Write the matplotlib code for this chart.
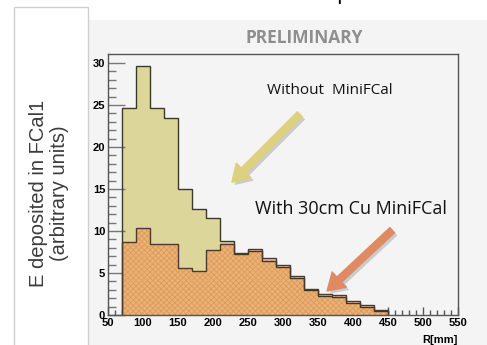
import numpy as np
import matplotlib
matplotlib.use("Agg")
import matplotlib.pyplot as plt
from matplotlib.patches import Rectangle
import matplotlib.patheffects as pe

# bin edges in R[mm]
edges = np.arange(70, 451, 20)

# energy per bin (arbitrary units)
without_mfc = [24.7, 29.6, 24.6, 23.5, 15.0, 12.6, 11.5, 8.85, 7.3, 7.65,
               6.45, 5.75, 4.45, 2.95, 2.3, 2.1, 1.45, 1.0, 0.5]
with_mfc = [8.7, 10.4, 8.5, 8.5, 5.55, 5.2, 7.7, 8.4, 7.35, 7.9,
            6.75, 6.0, 4.7, 3.15, 2.5, 2.35, 1.65, 1.2, 0.65]

xticks = [50, 100, 150, 200, 250, 300, 350, 400, 450, 500, 550]
yticks = [0, 5, 10, 15, 20, 25, 30]

plt.rcParams["hatch.linewidth"] = 0.6

W, H = 487, 345
fig = plt.figure(figsize=(W / 100, H / 100), dpi=100)
fig.patch.set_facecolor("white")

# grey slide panel and white label box
fig.patches.append(Rectangle((88 / W, 0), 1, 1 - 20 / H, transform=fig.transFigure,
                             facecolor="#f4f4f4", edgecolor="none", zorder=-2))
fig.patches.append(Rectangle((14 / W, -0.1), 74 / W, 1.1 - 7 / H, transform=fig.transFigure,
                             facecolor="white", edgecolor="#cfcfcf", lw=1, zorder=-1))

ax = fig.add_axes([108 / W, 1 - 315 / H, 350 / W, 261 / H])
ax.set_zorder(1)
ax.set_facecolor("#f4f4f4")

w = np.array(without_mfc)
c = np.array(with_mfc)
lo = np.minimum(w, c)

ax.stairs(w, edges, fill=True, facecolor="#ddd69b", edgecolor="none", zorder=1)
ax.stairs(c, edges, fill=True, facecolor="#f3cdb9", edgecolor="#e4a488",
          hatch="xxxxxx", lw=0, zorder=2)
ax.stairs(lo, edges, fill=True, facecolor="#eab273", edgecolor="#dc9a5e",
          hatch="xxxxxx", lw=0, zorder=3)
ax.stairs(w, edges, color="#3a3a2a", lw=1.0, zorder=4)
ax.stairs(c, edges, color="#4a3a30", lw=1.0, zorder=5)

ax.set_xlim(50, 550)
ax.set_ylim(0, 31.07)
ax.set_xticks(xticks)
ax.set_yticks(yticks)
ax.set_xticks(np.arange(50, 551, 10), minor=True)
ax.set_yticks(np.arange(0, 31, 1), minor=True)
ax.tick_params(axis="y", which="major", direction="in", length=12, width=1, color="#777777", pad=2)
ax.tick_params(axis="y", which="minor", direction="in", length=6, width=1, color="#777777")
ax.tick_params(axis="x", which="major", direction="in", length=6, width=1, color="#555555", pad=2)
ax.tick_params(axis="x", which="minor", direction="in", length=3.5, width=1, color="#555555")
for lab in ax.get_xticklabels() + ax.get_yticklabels():
    lab.set_fontfamily("Liberation Sans")
    lab.set_fontweight("bold")
    lab.set_fontsize(8)
for s in ax.spines.values():
    s.set_color("#555555")
    s.set_linewidth(1)
    s.set_zorder(6)

ax.text(1.0, -0.075, "R[mm]", transform=ax.transAxes, ha="right", va="top",
        fontsize=8, fontweight="bold", family="Liberation Sans")

# annotations
shadow = [pe.SimplePatchShadow(offset=(2, -2), shadow_rgbFace="#999999", alpha=0.45), pe.Normal()]
ax.text(367, 26.7, "Without  MiniFCal", ha="center", va="center", fontsize=11,
        family="Open Sans", color="#111111", zorder=7)
ax.annotate("", xy=(227, 15.8), xytext=(324, 23.9),
            arrowprops=dict(arrowstyle="simple,head_length=1.2,head_width=1.5,tail_width=0.5",
                            color="#ddd07e", path_effects=shadow, shrinkA=0, shrinkB=0), zorder=7)
ax.text(397, 12.6, "With 30cm Cu MiniFCal", ha="center", va="center", fontsize=13,
        family="Open Sans", color="#111111", zorder=7)
ax.annotate("", xy=(363, 2.86), xytext=(456, 10.1),
            arrowprops=dict(arrowstyle="simple,head_length=1.2,head_width=1.5,tail_width=0.5",
                            color="#df8a62", path_effects=shadow, shrinkA=0, shrinkB=0), zorder=7)

fig.text(304 / W, 1 - 38 / H, "PRELIMINARY", ha="center", va="center", fontsize=12.5,
         fontweight="bold", family="Open Sans", color="#8e8e8e")

# bit of a title cut off above the slide
fig.text(336 / W, 1 + 1 / H, "p", ha="left", va="baseline", fontsize=16,
         family="Open Sans", color="black")

fig.text(49 / W, 1 - 193 / H, "E deposited in FCal1\n(arbitrary units)", rotation=90,
         ha="center", va="center", fontsize=14.5, family="Liberation Sans",
         color="#3c3c3c", linespacing=1.1, multialignment="center")

fig.savefig("out.png", dpi=100)
